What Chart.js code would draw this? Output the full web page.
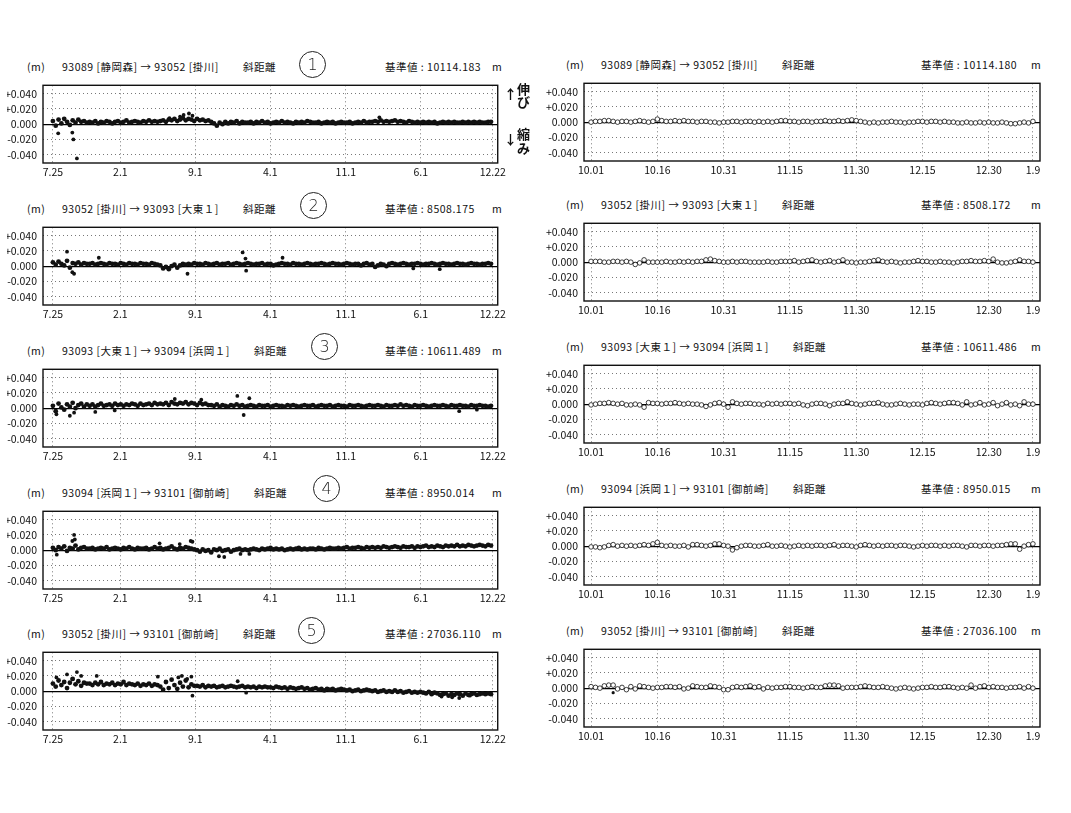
<!DOCTYPE html>
<html>
<head>
<meta charset="utf-8">
<script src="https://cdn.jsdelivr.net/npm/chart.js@4.4.1/dist/chart.umd.min.js"></script>
<style>
  body { margin: 0; width: 1071px; height: 813px; background: #fff; position: relative; overflow: hidden;
         font-family: 'Noto Sans CJK JP', sans-serif; color: #111; }
  canvas { position: absolute; }
  .hd { position: absolute; font-size: 10.5px; line-height: 14px; white-space: nowrap; letter-spacing: 0.5px; }
  .circ { position: absolute; width: 25px; height: 25px; border: 1.3px solid #222; border-radius: 50%;
          font: 300 16px 'DejaVu Sans', sans-serif; text-align: center; line-height: 25px; color: #222; }
  .side { position: absolute; font-size: 13px; font-weight: bold; line-height: 13px; }
</style>
</head>
<body>
<script>
// x axis ticks (left: days since 7.25, right: days since 10.01)
const leftTickLabels = ['7.25', '2.1', '9.1', '4.1', '11.1', '6.1', '12.22'];
const leftTickDays = [0, 191, 403, 615, 829, 1041, 1245];
const rightTickLabels = ['10.01', '10.16', '10.31', '11.15', '11.30', '12.15', '12.30', '1.9'];
const rightTickDays = [0, 15, 30, 45, 60, 75, 90, 100];
const yTickValues = [-0.04, -0.02, 0, 0.02, 0.04];
const yTickLabels = ['-0.040', '-0.020', '0.000', '+0.020', '+0.040'];

const routes = [
  '93089 [静岡森] → 93052 [掛川]',
  '93052 [掛川] → 93093 [大東１]',
  '93093 [大東１] → 93094 [浜岡１]',
  '93094 [浜岡１] → 93101 [御前崎]',
  '93052 [掛川] → 93101 [御前崎]'
];
const leftBase = ['10114.183', '8508.175', '10611.489', '8950.014', '27036.110'];
const rightBase = ['10114.180', '8508.172', '10611.486', '8950.015', '27036.100'];

// left panels: one reading every 8 days, in mm
const leftStep = 8;
const leftBand1 = [4, -2, 6, 1, 7, 3, -1, 5, 2, 6, 3, 4, 2,
  3, 2, 4, 1, 3, 2, 4, 3, 1, 3, 4, 2, 3, 5, 2, 3, 4, 3, 2, 4, 3, 5, 3, 4, 3,
  4, 5, 3, 6, 5, 7, 4, 6, 8, 5, 7, 6, 4, 7, 5, 6, 4, 5,
  3, 1, -2, 2, 0, 3, 1,
  3, 2, 4, 1, 3, 2, 2, 3, 1, 3, 2, 4, 2, 3, 1, 2, 3, 2, 4, 2, 3, 2, 1, 3, 2, 3, 2, 4, 3, 2,
  2, 3, 1, 2, 3, 2, 3, 1, 2, 3, 2, 2, 3, 1, 2, 3, 2, 4, 2, 3,
  3, 4, 3, 5, 3, 4, 3, 4, 5, 3, 4, 3, 2, 4, 3, 2, 3, 2, 3, 2,
  3, 2, 3, 1, 2, 3, 2, 3, 2, 3, 2, 2, 3, 2, 3, 2, 3, 2, 3, 2, 2, 3, 3];
const leftOutDays1 = [15, 55, 58, 68, 330, 360, 370, 385, 395, 924];
const leftOutVals1 = [-12, -11, -20, -45, 8, 10, 12, 14, 11, 9];

const leftBand2 = [5, 2, 6, 3, 1, 7, -2, 4, 3, 5, 2, 4, 3,
  3, 4, 2, 3, 4, 3, 2, 4, 3, 3, 2, 4, 3, 2, 4, 3, 3, 2, 4, 3, 3, 2, 4, 3, 2,
  1, -3, -1, -4, 0, 2, -2, 1, 3, 2,
  3, 2, 4, 3, 3, 2, 4, 3, 2, 3, 4, 2, 3, 3, 4, 2, 3, 4, 3, 2,
  3, 4, 3, 2, 3, 3, 4, 2, 3, 3, 1, 2, 3, 4, 3, 3, 2, 4, 3, 3,
  2, 3, 4, 3, 2, 3, 3, 4, 3, 2, 3, 4, 3, 3, 2, 3, 4, 3, 2, 3,
  3, 1, 3, 4, 2, 3, -1, 1, 3, 2, 0, 3, 4, 3, 2, 3, 4, 3, 2, 3,
  3, 4, 3, 2, 3, 3, 4, 3, 2, 3, 4, 3, 3, 2, 3, 4, 3, 3, 2, 3, 4, 3, 3, 2, 3, 3, 4, 3];
const leftOutDays2 = [40, 55, 60, 130, 381, 537, 545, 547, 650, 1020, 1095];
const leftOutVals2 = [19, -8, -10, 11, -10, 18, 10, -6, 11, -3, -4];

const leftBand3 = [3, -4, 6, 1, -2, 5, 2, 7, 0, 4, 6, 2, 5,
  3, 5, 2, 4, 6, 3, 4, 5, 3, 6, 4, 5, 3, 5, 4, 6, 5, 3, 6, 4, 5, 6, 4, 7, 5,
  6, 5, 7, 4, 8, 6, 5, 7, 6, 8, 5, 7, 6, 4, 7, 5, 6, 4,
  4, 3, 5, 2, 4, 3, 2, 4, 3, 5, 3, 4, 2, 3, 4, 3, 2, 4, 3, 3,
  4, 2, 3, 4, 3, 3, 2, 4, 3, 4, 3, 2, 3, 4, 3, 3, 4, 2, 3, 4,
  3, 3, 4, 2, 3, 4, 3, 3, 2, 4, 3, 3, 4, 3, 2, 3, 4, 3, 3, 4,
  3, 2, 4, 3, 3, 4, 3, 5, 3, 4, 3, 2, 4, 3, 3, 4, 3, 2, 3, 4,
  3, 3, 4, 3, 2, 4, 3, 3, 4, 3, 3, 2, 4, 3, 3, 4, 3, 3, 2, 3];
const leftOutDays3 = [10, 48, 60, 120, 175, 345, 420, 522, 540, 556, 1150, 1200];
const leftOutVals3 = [-8, -10, -6, -5, -3, 12, 11, 16, -9, 13, -4, -2];

const leftBand4 = [3, 0, 4, 2, 5, -1, 3, 2, 6, 1, 3, 4, 2,
  2, 3, 1, 2, 3, 2, 4, 1, 2, 3, 2, 1, 3, 2, 4, 2, 1, 3, 2, 2, 3, 1, 2, 4, 2, 3, 1, 2, 3, 5, 2, 1, 3, 2, 4, 3, 2,
  1, 0, -2, 1, -1, 0, -3, 1, 0, 2, -1, 0, 1, -2, 0, 1, 2, 0, 1, 0,
  1, 2, 1, 0, 2, 1, 2, 3, 1, 2, 1, 2, 0, 1, 2, 1, 2, 3, 1, 2, 1, 2, 2, 1, 3, 2, 1, 2, 3, 2,
  2, 3, 2, 3, 4, 2, 3, 3, 4, 3, 2, 4, 3, 4, 3, 4, 3, 5, 4, 3,
  4, 5, 4, 3, 5, 4, 4, 5, 3, 5, 4, 5, 6, 4, 5, 4, 6, 5, 4, 6,
  5, 6, 5, 7, 5, 6, 5, 7, 6, 5, 6, 7, 6, 5, 7, 6];
const leftOutDays4 = [11, 55, 60, 62, 302, 359, 390, 395, 470, 485, 531, 556];
const leftOutVals4 = [-6, 12, 20, 14, 9, 8, 12, 11, -8, -9, -5, -5];

const leftBand5 = [10, 6, 14, 8, 12, 4, 11, 16, 9, 13, 7, 11, 10,
  10, 8, 11, 9, 12, 8, 10, 9, 11, 8, 10, 9, 12, 8, 10, 9, 8, 10, 7, 9, 8, 10, 7, 9, 8,
  6, 2, 12, 4, 15, 8, 3, 11, 6, 14, 5, 9, 7,
  7, 6, 8, 5, 7, 6, 7, 5, 6, 7, 5, 6, 7, 6, 5, 6, 7, 5, 6, 5, 6, 4, 6, 5, 6, 5,
  5, 4, 6, 5, 4, 5, 3, 5, 4, 3, 4, 5, 3, 4, 2, 3, 4, 2, 3, 1, 3, 2, 3, 1, 2, 3, 2,
  1, 2, 0, 1, 2, 0, 1, 2, 1, 0, 1, -1, 0, 1, -1, 0, -1, 1, -1, 0, -2, -1, 0, -2, -1, -2, -1,
  -2, -3, -1, -4, -2, -3, -5, -4, -3, -6, -4, -5, -3, -4, -6, -3, -5, -4, -3, -5, -4, -3, -4, -3, -4];
const leftOutDays5 = [10, 40, 55, 68, 80, 124, 297, 355, 365, 380, 392, 395, 523, 547, 1100, 1130, 1150, 1180];
const leftOutVals5 = [18, 22, 16, 25, 20, 20, 19, 18, 20, 16, 19, -6, 13, -2, -7, -8, -9, -6];

// right panels: daily readings 10.01 .. 1.9, in mm
const rightVals1 = [0, 1, 1, 2, 2, 1, 0, 1, 1, 0, 1, 2, 1, 0, 1, 4, 2, 1, 1, 2,
  1, 2, 1, 1, 0, 1, 1, 0, 0, -1, 0, 0, 1, 1, 0, 1, 1, 0, 1, 0,
  1, 0, 1, 2, 2, 1, 1, 0, 1, 1, 0, 1, 1, 2, 1, 1, 2, 1, 2, 3,
  2, 1, 0, -1, 0, -1, 0, 0, 1, 0, 0, -1, 0, 0, 1, 1, 0, 1, 1, 0,
  1, 0, 0, -1, -1, 0, -1, -1, 0, -1, 0, -1, -1, 0, -1, -2, -2, -1, 0, -1, 1];
const rightVals2 = [1, 1, 1, 0, 0, 1, 1, 0, 1, 0, -3, -1, 3, 0, 0, 0, 0, 1, 0, 0,
  1, 0, 1, 0, 1, 1, 3, 4, 2, 1, 0, 0, 1, 0, 1, 1, 0, 0, 0, 0,
  1, 0, 0, 1, 1, 1, 2, 0, 1, 2, 3, 1, 0, 1, 2, 0, 1, 3, 0, 0,
  -1, 0, 0, 1, 2, 3, 1, 0, 1, 0, -1, 0, 0, 1, 2, 1, 1, 0, 0, 1,
  0, 0, -1, 0, 1, 1, 2, 1, 1, 2, 1, 4, 0, -1, -1, 0, 1, 3, 1, 1, 0];
const rightVals3 = [-1, 0, 1, 1, 2, 1, 0, 1, -1, -1, 0, -1, -4, 2, 1, 1, 0, 1, 1, 2,
  1, 0, 1, 0, 0, -1, -3, -1, 1, 2, 0, -4, 3, 1, 0, 1, 1, 0, 0, -1,
  1, 0, 1, 0, 1, 1, 0, 1, -1, -2, 0, 1, 1, 0, -2, 0, 1, 1, 3, 1,
  0, -1, 0, 1, 1, 2, 0, -1, -1, 0, 1, 0, -1, 0, 0, -1, 1, 2, 1, 0,
  1, 2, 2, 1, -1, 3, -1, 0, 2, -1, 0, 2, -2, 0, 2, -1, 0, -2, 3, 0, 0];
const rightVals4 = [-1, -1, -2, -1, 1, 2, 0, 1, 0, 1, 0, 1, 2, 1, 3, 5, 1, 0, 1, 0,
  0, 1, -1, 2, 2, 1, 0, 1, 3, 3, 1, 0, -5, -2, 0, 1, 1, 0, 0, 1,
  2, 0, 0, 1, 0, -1, 0, 1, 0, 1, 0, 1, 1, 0, 1, 2, 0, 1, 1, 0,
  -1, 1, 2, 1, 0, 1, 0, 1, 1, 0, 1, 1, 0, -1, 0, 1, 0, 1, 1, 0,
  1, 0, 1, 1, 0, -1, 1, 1, 0, 1, 1, 0, 1, 1, 2, 3, 3, -4, 0, 2, 3];
const rightVals5 = [2, 1, 0, 3, 4, 4, -1, 1, -2, 2, -1, 3, 2, 1, 0, 1, 1, 2, 2, 1,
  2, -1, 0, 3, 2, 1, 1, 3, 2, 1, -2, -2, 1, 2, 1, 2, 3, 1, 2, -1,
  1, 0, 1, 1, 2, 2, 1, 1, 0, 1, 2, 1, 1, 3, 4, 4, 3, 0, 1, 1,
  1, 2, 3, 2, 1, 1, 2, 1, 0, -1, 0, 1, 0, -1, 0, 1, 1, 2, 1, 1,
  2, 2, 1, 0, 1, 0, 4, 0, 2, 3, 1, 2, 1, 1, 0, 1, 1, 2, 0, 2, 0];
const rightOutDays5 = [5];
const rightOutVals5 = [-6];

const leftSets = [
  [leftBand1, leftOutDays1, leftOutVals1],
  [leftBand2, leftOutDays2, leftOutVals2],
  [leftBand3, leftOutDays3, leftOutVals3],
  [leftBand4, leftOutDays4, leftOutVals4],
  [leftBand5, leftOutDays5, leftOutVals5]
];
const rightSets = [
  [rightVals1, [], []],
  [rightVals2, [], []],
  [rightVals3, [], []],
  [rightVals4, [], []],
  [rightVals5, rightOutDays5, rightOutVals5]
];

// page layout
const leftTops = [78, 220, 362, 504, 645];
const rightTops = [76, 216, 358, 500, 642];
const circles = [[312, 64], [313, 205], [324, 346], [326, 488], [311, 630]];

const tickFont = { family: "'Noto Sans CJK JP', sans-serif", size: 10.5 };
const isZero = c => c.tick && c.tick.value === 0;

const boxPlugin = {
  id: 'box',
  afterDatasetsDraw(chart) {
    const { ctx, chartArea: a } = chart;
    ctx.save();
    ctx.strokeStyle = '#111';
    ctx.lineWidth = 1.4;
    ctx.strokeRect(a.left, a.top, a.right - a.left, a.bottom - a.top);
    ctx.restore();
  }
};

function addDiv(cls, text, x, y) {
  const d = document.createElement('div');
  d.className = cls;
  d.textContent = text;
  d.style.left = x + 'px';
  d.style.top = y + 'px';
  document.body.appendChild(d);
  return d;
}

function header(i, left, top) {
  const y = top - 18;
  const base = left ? leftBase[i] : rightBase[i];
  const o = left ? 0 : 539;
  addDiv('hd', '(m)', 27 + o, y);
  const t = addDiv('hd', routes[i], 62 + o, y);
  const s = document.createElement('span');
  s.textContent = '斜距離';
  s.style.marginLeft = '24px';
  t.appendChild(s);
  addDiv('hd', '基準値 : ' + base, 385 + o - (left ? 0 : 3), y);
  addDiv('hd', 'm', 492 + o, y);
}

function makeChart(i, left) {
  const top = left ? leftTops[i] : rightTops[i];
  header(i, left, top);
  const cv = document.createElement('canvas');
  cv.width = left ? 502 : 504;
  cv.height = 106;
  cv.style.left = (left ? 7 : 546) + 'px';
  cv.style.top = (top - 5) + 'px';
  document.body.appendChild(cv);

  const tickDays = left ? leftTickDays : rightTickDays;
  const tickLabels = left ? leftTickLabels : rightTickLabels;
  let datasets;
  if (left) {
    const [band, od, ov] = leftSets[i];
    datasets = [
      { data: band.map((v, k) => ({ x: k * leftStep, y: v / 1000 })), pointRadius: 2.4,
        backgroundColor: '#111', borderWidth: 0, showLine: false },
      { data: od.map((d, k) => ({ x: d, y: ov[k] / 1000 })), pointRadius: 1.9,
        backgroundColor: '#111', borderWidth: 0, showLine: false }
    ];
  } else {
    const [vals, od, ov] = rightSets[i];
    datasets = [
      { data: vals.map((v, k) => ({ x: k, y: v / 1000 })), showLine: true,
        borderColor: '#222', borderWidth: 0.8, pointRadius: 2.3,
        pointBackgroundColor: '#fff', pointBorderColor: '#111', pointBorderWidth: 0.8 },
      { data: od.map((d, k) => ({ x: d, y: ov[k] / 1000 })), showLine: false,
        pointRadius: 1.6, backgroundColor: '#111', borderWidth: 0 }
    ];
  }

  new Chart(cv, {
    type: 'scatter',
    data: { datasets },
    options: {
      responsive: false,
      animation: false,
      layout: { padding: { top: 5, right: 10, left: 0, bottom: 0 } },
      plugins: { legend: { display: false }, tooltip: { enabled: false } },
      scales: {
        x: {
          type: 'linear',
          min: left ? -28 : -1.6,
          max: left ? 1259 : 101.6,
          afterBuildTicks: s => { s.ticks = tickDays.map(v => ({ value: v })); },
          afterFit: s => { s.height = 16; },
          ticks: { autoSkip: false, maxRotation: 0, padding: 3, color: '#111', font: tickFont,
                   callback: (v, k) => tickLabels[k] },
          grid: { color: '#555', lineWidth: 0.8, drawTicks: false },
          border: { display: false, dash: [1, 3] }
        },
        y: {
          min: -0.051,
          max: 0.051,
          afterBuildTicks: s => { s.ticks = yTickValues.map(v => ({ value: v })); },
          afterFit: s => { s.width = left ? 36 : 38; },
          ticks: { padding: 6, color: '#111', font: tickFont, callback: (v, k) => yTickLabels[k] },
          grid: { color: c => isZero(c) ? '#000' : '#555', lineWidth: c => isZero(c) ? 1.3 : 0.8, drawTicks: false },
          border: { display: false, dash: c => isZero(c) ? [] : [1, 3] }
        }
      }
    },
    plugins: [boxPlugin]
  });
}

for (let i = 0; i < 5; i++) {
  makeChart(i, true);
  makeChart(i, false);
  const [cx, cy] = circles[i];
  addDiv('circ', String(i + 1), cx - 13, cy - 13);
}

// growth / shrink note beside the first chart
addDiv('side', '↑', 504, 87);
addDiv('side', '伸', 517, 82);
addDiv('side', 'び', 517, 95);
addDiv('side', '↓', 504, 132);
addDiv('side', '縮', 517, 127);
addDiv('side', 'み', 517, 141);
</script>
</body>
</html>
